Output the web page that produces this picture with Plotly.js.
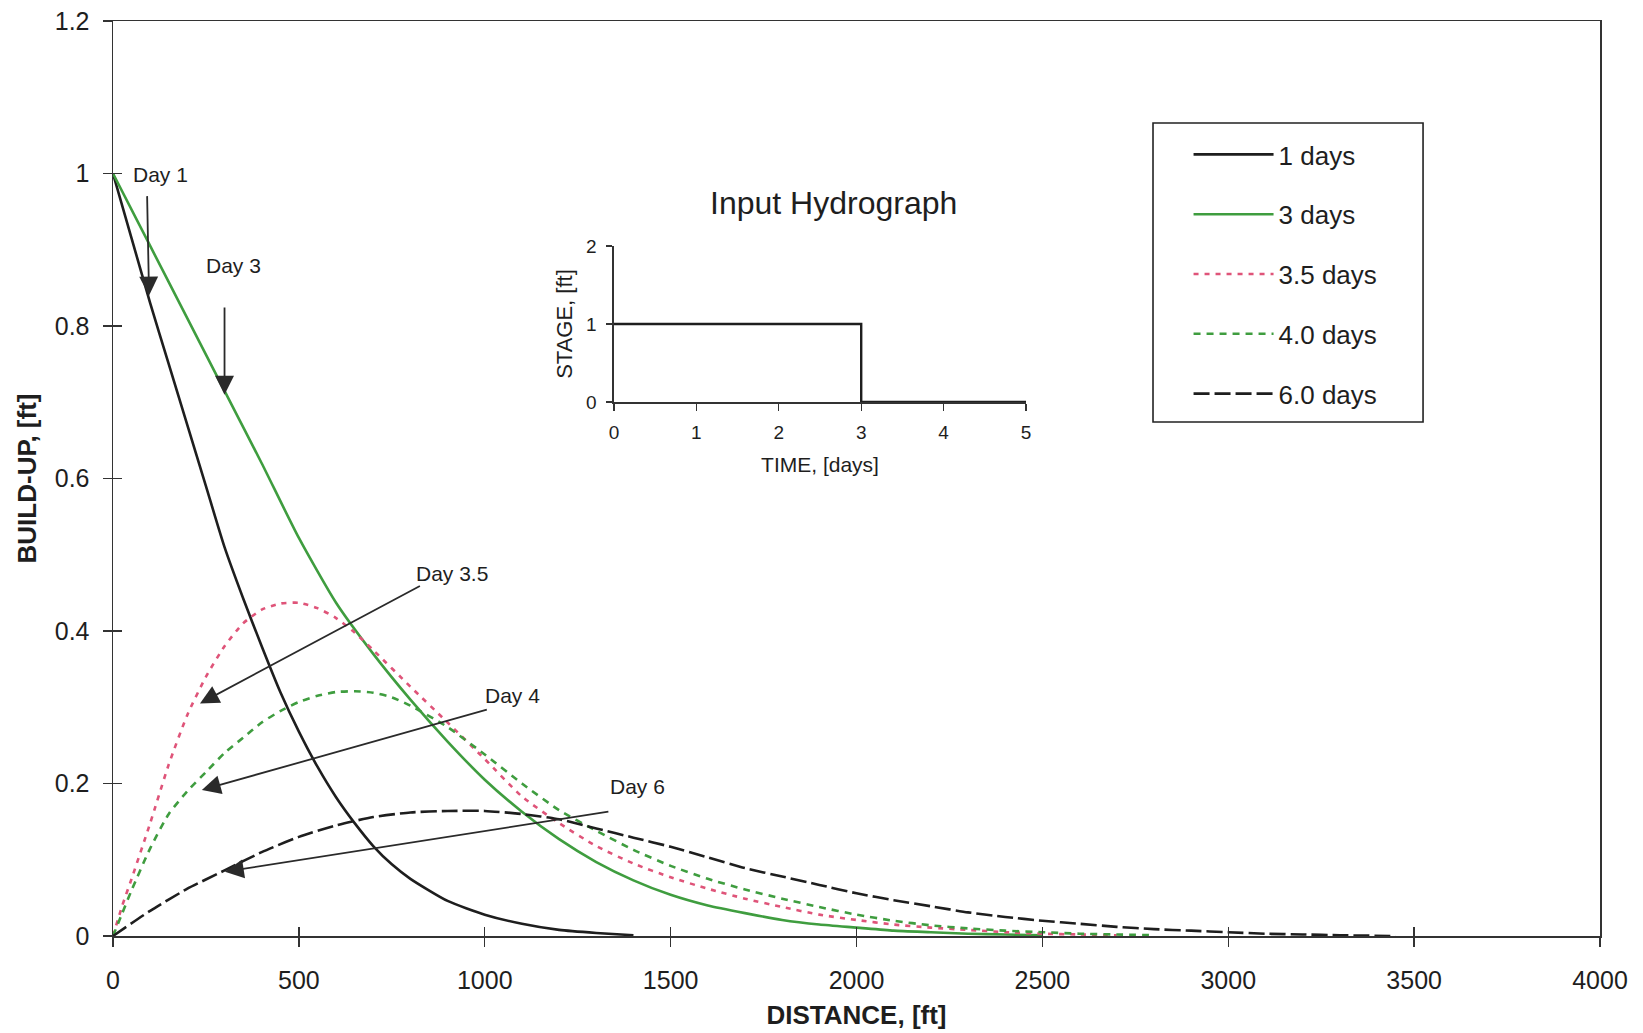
<!DOCTYPE html>
<html>
<head>
<meta charset="utf-8">
<script src="https://cdn.plot.ly/plotly-3.0.1.min.js"></script>
<style>html,body{margin:0;padding:0;background:#fff;}#chart{width:1643px;height:1033px;}</style>
</head>
<body>
<div id="chart"></div>
<script>
// ---- Data ----
const seriesNames = ['1 days', '3 days', '3.5 days', '4.0 days', '6.0 days'];

const day1X = [0,50,100,150,200,250,300,350,400,450,500,550,600,650,700,750,800,900,1000,1100,1200,1300,1400];
const day1Y = [1.0,0.915,0.83,0.75,0.67,0.59,0.51,0.443,0.38,0.32,0.268,0.222,0.182,0.148,0.118,0.094,0.075,0.046,0.028,0.016,0.008,0.004,0.001];

const day3X = [0,100,200,300,400,500,600,700,800,900,1000,1100,1200,1300,1400,1500,1600,1700,1800,1900,2000,2100,2200,2300,2400,2500];
const day3Y = [1.0,0.905,0.81,0.715,0.62,0.522,0.437,0.37,0.31,0.255,0.205,0.163,0.127,0.097,0.073,0.054,0.04,0.03,0.021,0.015,0.011,0.007,0.005,0.003,0.002,0.001];

const day35X = [0,25,50,100,150,200,250,300,350,400,450,500,550,600,650,700,800,900,1000,1100,1200,1300,1400,1500,1600,1700,1800,1900,2000,2100,2200,2300,2400,2500,2600,2700];
const day35Y = [0,0.04,0.075,0.148,0.225,0.29,0.34,0.38,0.41,0.428,0.436,0.437,0.43,0.417,0.398,0.375,0.327,0.28,0.232,0.183,0.148,0.118,0.095,0.077,0.062,0.049,0.038,0.028,0.021,0.015,0.011,0.008,0.005,0.003,0.002,0.001];

const day4X = [0,25,50,100,150,200,250,300,350,400,450,500,550,600,650,700,750,800,900,1000,1100,1200,1300,1400,1500,1600,1700,1800,1900,2000,2100,2200,2300,2400,2500,2600,2700,2800];
const day4Y = [0,0.03,0.06,0.115,0.16,0.19,0.215,0.24,0.26,0.28,0.295,0.307,0.315,0.32,0.321,0.319,0.313,0.302,0.274,0.238,0.2,0.165,0.138,0.113,0.092,0.075,0.061,0.049,0.038,0.028,0.02,0.014,0.01,0.007,0.005,0.003,0.002,0.001];

const day6X = [0,100,200,300,400,500,600,700,800,900,1000,1100,1200,1300,1400,1500,1600,1700,1800,1900,2000,2100,2200,2300,2400,2500,2600,2700,2800,2900,3000,3100,3200,3300,3450];
const day6Y = [0,0.033,0.062,0.086,0.11,0.13,0.145,0.156,0.162,0.164,0.164,0.16,0.153,0.141,0.129,0.117,0.103,0.089,0.078,0.067,0.056,0.047,0.039,0.031,0.025,0.020,0.016,0.012,0.009,0.007,0.005,0.003,0.002,0.001,0];

// Inset: input hydrograph
const timeDays = [0, 3, 3, 5];
const stageFt = [1, 1, 0, 0];

const dayLabels = ['Day 1', 'Day 3', 'Day 3.5', 'Day 4', 'Day 6'];

// ---- Styling ----
const FONT = 'Liberation Sans, Arial, Helvetica, sans-serif';
const INK = '#1e1e1e';
const GREEN = '#3f9d3f';
const PINK = '#df5479';

function line(x, y, name, color, dash, group) {
  return {
    type: 'scatter', mode: 'lines', x: x, y: y, name: name,
    legendgroup: group,
    line: {color: color, width: 2.6, dash: dash, shape: 'spline', smoothing: 0.6},
    hoverinfo: 'skip'
  };
}

const traces = [
  line(day1X, day1Y, seriesNames[0], INK, 'solid', 'g1'),
  line(day3X, day3Y, seriesNames[1], GREEN, 'solid', 'g2'),
  line(day35X, day35Y, seriesNames[2], PINK, '5px,6px', 'g3'),
  line(day4X, day4Y, seriesNames[3], GREEN, '7px,6px', 'g4'),
  line(day6X, day6Y, seriesNames[4], INK, '16px,5px', 'g5'),
  {
    type: 'scatter', mode: 'lines', x: timeDays, y: stageFt,
    xaxis: 'x2', yaxis: 'y2', showlegend: false, hoverinfo: 'skip',
    line: {color: INK, width: 2.4}
  },
  { // carrier for the inner half of the crossing ticks
    type: 'scatter', mode: 'lines', x: [], y: [], xaxis: 'x3', yaxis: 'y3',
    showlegend: false, hoverinfo: 'skip'
  }
];

function arrow(tipX, tipY, tailX, tailY) {
  return {
    x: tipX, y: tipY, ax: tailX, ay: tailY,
    xref: 'x', yref: 'y', axref: 'x', ayref: 'y',
    text: ' ', showarrow: true, arrowhead: 2, arrowsize: 2.1,
    arrowwidth: 1.8, arrowcolor: '#2a2a2a', standoff: 0, startstandoff: 0
  };
}
function label(t, x, y) {
  return {
    x: x, y: y, xref: 'x', yref: 'y', text: t, showarrow: false,
    xanchor: 'center', yanchor: 'middle',
    font: {family: FONT, size: 21, color: INK}
  };
}

const annotations = [
  arrow(97, 0.84, 91, 0.99),
  arrow(300, 0.71, 300, 0.844),
  arrow(234, 0.305, 839, 0.4626),
  arrow(239, 0.1915, 1019, 0.2986),
  arrow(301, 0.0843, 1346, 0.164),
  label(dayLabels[0], 129, 0.999),
  label(dayLabels[1], 323, 0.88),
  label(dayLabels[2], 912, 0.475),
  label(dayLabels[3], 1075, 0.316),
  label(dayLabels[4], 1411, 0.196),
  {
    x: 0.4846, y: 0.801, xref: 'paper', yref: 'paper', text: 'Input Hydrograph',
    showarrow: false, xanchor: 'center', yanchor: 'middle',
    font: {family: FONT, size: 32, color: INK}
  }
];

// Frame drawn around the legend
const shapes = [{
  type: 'rect', xref: 'paper', yref: 'paper',
  x0: 0.6994, x1: 0.881, y0: 0.5617, y1: 0.8885,
  line: {color: '#222', width: 1.6}, fillcolor: 'rgba(0,0,0,0)', layer: 'above'
}];

const layout = {
  width: 1643, height: 1033,
  margin: {l: 113, r: 43, t: 21, b: 97, pad: 0},
  paper_bgcolor: '#ffffff', plot_bgcolor: '#ffffff',
  font: {family: FONT, color: INK, size: 24},
  showlegend: true,
  legend: {
    x: 0.7233, y: 0.8798, xanchor: 'left', yanchor: 'top',
    bgcolor: 'rgba(255,255,255,0)', borderwidth: 0,
    font: {family: FONT, size: 26, color: INK},
    itemwidth: 80, tracegroupgap: 23, traceorder: 'grouped',
    itemclick: false, itemdoubleclick: false
  },
  xaxis: {
    range: [0, 4000], dtick: 500, tick0: 0, showgrid: false, zeroline: false,
    showline: true, mirror: true, linecolor: '#333', linewidth: 1.5,
    ticks: 'outside', ticklen: 9, tickwidth: 1.3, tickcolor: '#333',
    ticklabelstandoff: 12,
    tickfont: {family: FONT, size: 25, color: INK},
    title: {text: '<b>DISTANCE, [ft]</b>', font: {family: FONT, size: 26, color: INK}, standoff: 13},
    automargin: false, fixedrange: true
  },
  yaxis: {
    range: [0, 1.2], dtick: 0.2, tick0: 0, showgrid: false, zeroline: false,
    showline: true, mirror: true, linecolor: '#333', linewidth: 1.5,
    ticks: 'outside', ticklen: 9, tickwidth: 1.3, tickcolor: '#333',
    ticklabelstandoff: 8,
    tickfont: {family: FONT, size: 25, color: INK},
    title: {text: '<b>BUILD-UP, [ft]</b>', font: {family: FONT, size: 26, color: INK}, standoff: 10},
    automargin: false, fixedrange: true
  },
  xaxis3: {
    overlaying: 'x', anchor: 'y', range: [0, 4000], dtick: 500, tick0: 0,
    showgrid: false, zeroline: false, showline: false, showticklabels: false,
    ticks: 'inside', ticklen: 9, tickwidth: 1.3, tickcolor: '#333', fixedrange: true
  },
  yaxis3: {
    overlaying: 'y', anchor: 'x', range: [0, 1.2], dtick: 0.2, tick0: 0,
    showgrid: false, zeroline: false, showline: false, showticklabels: false,
    ticks: 'inside', ticklen: 9, tickwidth: 1.3, tickcolor: '#333', fixedrange: true
  },
  xaxis2: {
    domain: [0.3369, 0.614], anchor: 'y2', range: [0, 5], dtick: 1, tick0: 0,
    showgrid: false, zeroline: false, showline: true, linecolor: '#333', linewidth: 1.5,
    ticks: 'outside', ticklen: 7, tickwidth: 1.3, tickcolor: '#333',
    ticklabelstandoff: 6,
    tickfont: {family: FONT, size: 19, color: INK},
    title: {text: 'TIME, [days]', font: {family: FONT, size: 21, color: INK}, standoff: 15},
    automargin: false, fixedrange: true
  },
  yaxis2: {
    domain: [0.5836, 0.7541], anchor: 'x2', range: [0, 2], dtick: 1, tick0: 0,
    showgrid: false, zeroline: false, showline: true, linecolor: '#333', linewidth: 1.5,
    ticks: 'outside', ticklen: 6, tickwidth: 1.3, tickcolor: '#333',
    ticklabelstandoff: 6,
    tickfont: {family: FONT, size: 19, color: INK},
    title: {text: 'STAGE, [ft]', font: {family: FONT, size: 22, color: INK}, standoff: 7},
    automargin: false, fixedrange: true
  },
  shapes: shapes,
  annotations: annotations
};

Plotly.newPlot('chart', traces, layout, {displayModeBar: false, staticPlot: true});
</script>
</body>
</html>
